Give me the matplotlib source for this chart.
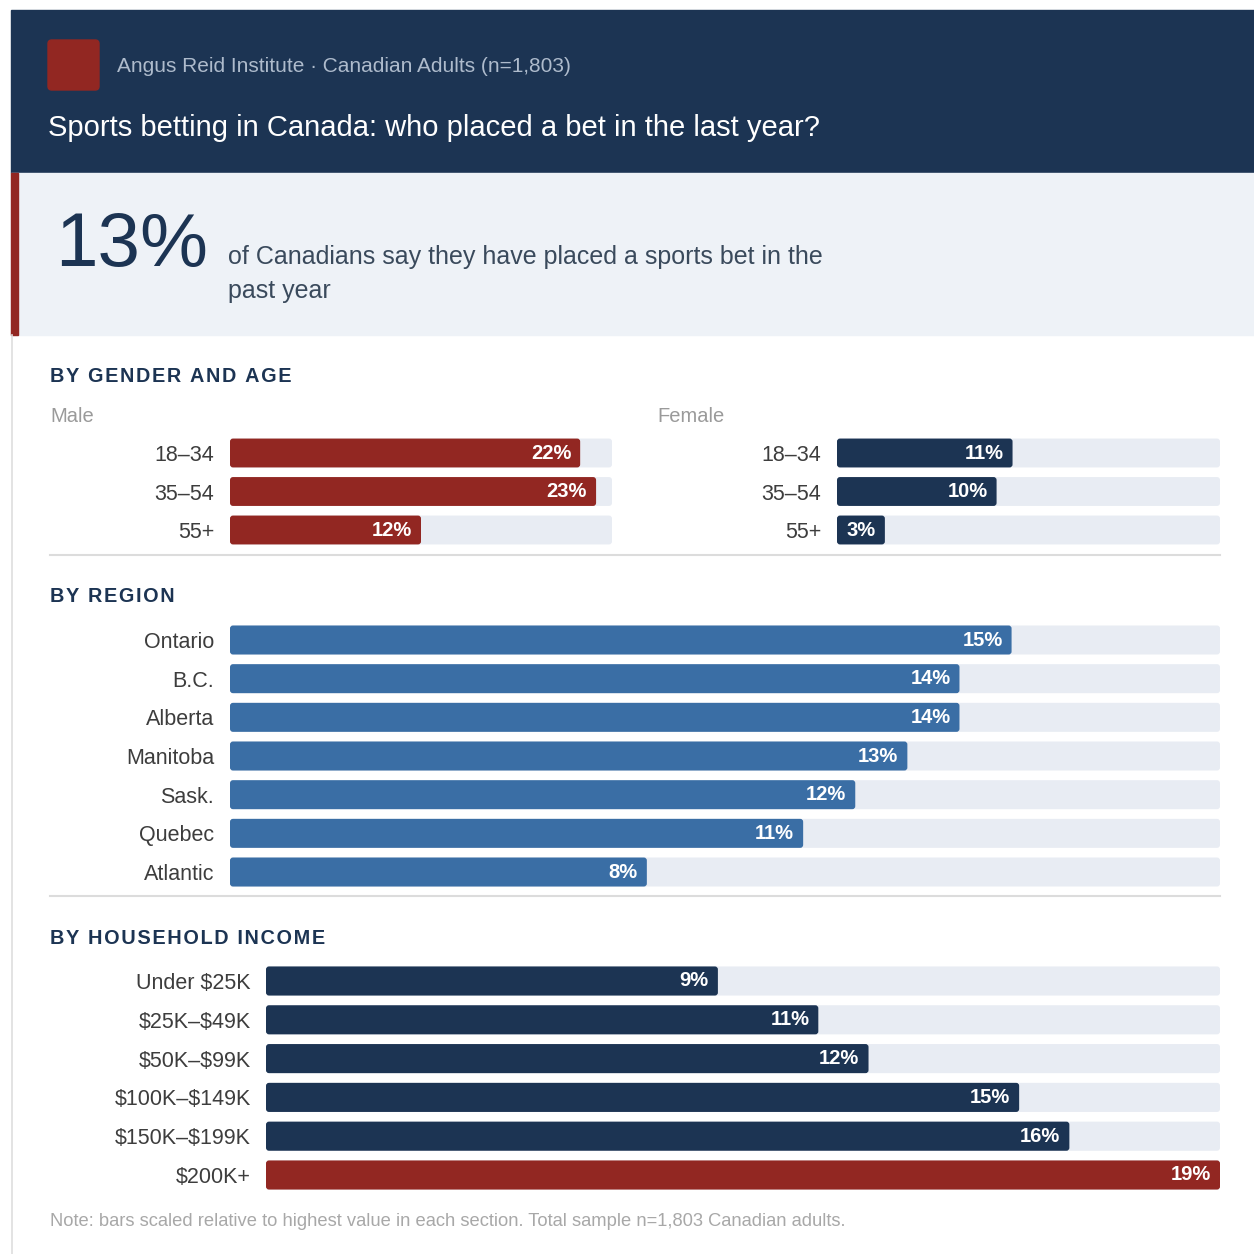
import matplotlib
matplotlib.use("Agg")
import matplotlib.pyplot as plt
from matplotlib.patches import Rectangle, FancyBboxPatch
from matplotlib.lines import Line2D

plt.rcParams['font.family'] = ['Liberation Sans', 'DejaVu Sans']
plt.rcParams['text.parse_math'] = False

# survey data (% who placed a sports bet in the past year)
age_groups = ["18–34", "35–54", "55+"]
male_pct = [22, 23, 12]
female_pct = [11, 10, 3]

regions = ["Ontario", "B.C.", "Alberta", "Manitoba", "Sask.", "Quebec", "Atlantic"]
region_pct = [15, 14, 14, 13, 12, 11, 8]

incomes = ["Under $25K", "$25K–$49K", "$50K–$99K", "$100K–$149K", "$150K–$199K", "$200K+"]
income_pct = [9, 11, 12, 15, 16, 19]

overall_pct = 13

NAVY = "#1c3453"
RED = "#922722"
BLUE = "#3a6ea5"
TRACK = "#e8ecf3"
LABEL = "#3d3d3d"

W, H = 1254, 1254
fig = plt.figure(figsize=(W / 100, H / 100), dpi=100)


def fx(x):
    return x / W


def fy(y):
    return 1 - y / H


# header band
fig.patches.append(Rectangle((fx(11), fy(173)), fx(1254) - fx(11), fy(10) - fy(173),
                             transform=fig.transFigure, color=NAVY, zorder=0))
fig.patches.append(FancyBboxPatch((fx(48), fy(90)), fx(51), fy(40) - fy(90),
                                  boxstyle="round,pad=0,rounding_size=0.003",
                                  transform=fig.transFigure, color=RED, zorder=1))
fig.text(fx(117), fy(66), "Angus Reid Institute · Canadian Adults (n=1,803)",
         color="#aebbcc", fontsize=15, va="center")
fig.text(fx(48), fy(128), "Sports betting in Canada: who placed a bet in the last year?",
         color="white", fontsize=21, va="center")

# headline stat box
fig.patches.append(Rectangle((fx(11), fy(335)), fx(1254) - fx(11), fy(173) - fy(335),
                             transform=fig.transFigure, color="#eef2f7", zorder=0))
fig.patches.append(Rectangle((fx(11), fy(335)), fx(7), fy(173) - fy(335),
                             transform=fig.transFigure, color=RED, zorder=1))
fig.lines.append(Line2D([fx(11.5), fx(11.5)], [fy(335), fy(1254)],
                        transform=fig.transFigure, color="#dedede", lw=1.2))
fig.text(fx(55), fy(266), f"{overall_pct}%", color=NAVY, fontsize=55, va="baseline")
fig.text(fx(228), fy(264), "of Canadians say they have placed a sports bet in the",
         color="#3a4a5c", fontsize=18, va="baseline")
fig.text(fx(228), fy(298), "past year", color="#3a4a5c", fontsize=18, va="baseline")


def section_title(y, text):
    # spread the capitals out a little with hair spaces
    spaced = "\u200a".join(text)
    fig.text(fx(50), fy(y), spaced, color=NAVY, fontsize=14.3, fontweight="bold", va="center")


def divider(y):
    fig.lines.append(Line2D([fx(50), fx(1220)], [fy(y), fy(y)],
                            transform=fig.transFigure, color="#dcdcdc", lw=1.5))


def round_bars(ax, bars, r_px, w_px, spacing, vmax):
    # swap the plain barh rectangles for rounded ones of the same size
    rx = r_px * vmax / w_px
    aspect = w_px / (spacing * vmax)
    for b in bars:
        x, y, w, h = b.get_x(), b.get_y(), b.get_width(), b.get_height()
        rr = min(rx, w / 2)
        p = FancyBboxPatch((x, y), w, h, boxstyle=f"round,pad=0,rounding_size={rr}",
                           mutation_aspect=aspect, facecolor=b.get_facecolor(),
                           edgecolor="none", zorder=b.get_zorder())
        ax.add_patch(p)
        b.remove()


def bar_group(x0, x1, y_first, spacing, labels, values, colors, vmax, pad):
    n = len(labels)
    top = y_first - spacing / 2
    bottom = y_first + (n - 0.5) * spacing
    ax = fig.add_axes([fx(x0), fy(bottom), fx(x1) - fx(x0), fy(top) - fy(bottom)])
    ypos = list(range(n))
    track = ax.barh(ypos, [vmax] * n, height=0.75, color=TRACK, zorder=1)
    bars = ax.barh(ypos, values, height=0.75, color=colors, zorder=2)
    round_bars(ax, track, 3, x1 - x0, spacing, vmax)
    round_bars(ax, bars, 3, x1 - x0, spacing, vmax)
    for i, v in zip(ypos, values):
        ax.annotate(f"{v}%", (v, i), xytext=(-6.5, 0), textcoords="offset points",
                    ha="right", va="center", color="white", fontsize=14.5,
                    fontweight="bold", zorder=3)
    ax.set_xlim(0, vmax)
    ax.set_ylim(n - 0.5, -0.5)
    ax.set_yticks(ypos)
    ax.set_yticklabels(labels, fontsize=15.5, color=LABEL)
    ax.tick_params(axis="y", length=0, pad=pad * 0.72)
    ax.set_xticks([])
    for s in ax.spines.values():
        s.set_visible(False)
    ax.patch.set_alpha(0)
    return ax


# gender and age
section_title(377, "BY GENDER AND AGE")
fig.text(fx(50), fy(417), "Male", color="#9a9a9a", fontsize=14.5, va="center")
fig.text(fx(657), fy(417), "Female", color="#9a9a9a", fontsize=14.5, va="center")
bar_group(230, 612, 453, 38.5, age_groups, male_pct, [RED] * 3, 24, 16)
bar_group(837, 1220, 453, 38.5, age_groups, female_pct, [NAVY] * 3, 24, 16)
divider(555)

# region
section_title(597, "BY REGION")
bar_group(230, 1220, 640, 38.67, regions, region_pct, [BLUE] * len(regions), 19, 16)
divider(896)

# household income
section_title(939, "BY HOUSEHOLD INCOME")
income_colors = [NAVY] * (len(incomes) - 1) + [RED]
bar_group(266, 1220, 981, 38.8, incomes, income_pct, income_colors, max(income_pct), 15)

fig.text(fx(50), fy(1222),
         "Note: bars scaled relative to highest value in each section. Total sample n=1,803 Canadian adults.",
         color="#a8a8a8", fontsize=13.2, va="center")

fig.savefig("out.png", dpi=100, facecolor="white")
